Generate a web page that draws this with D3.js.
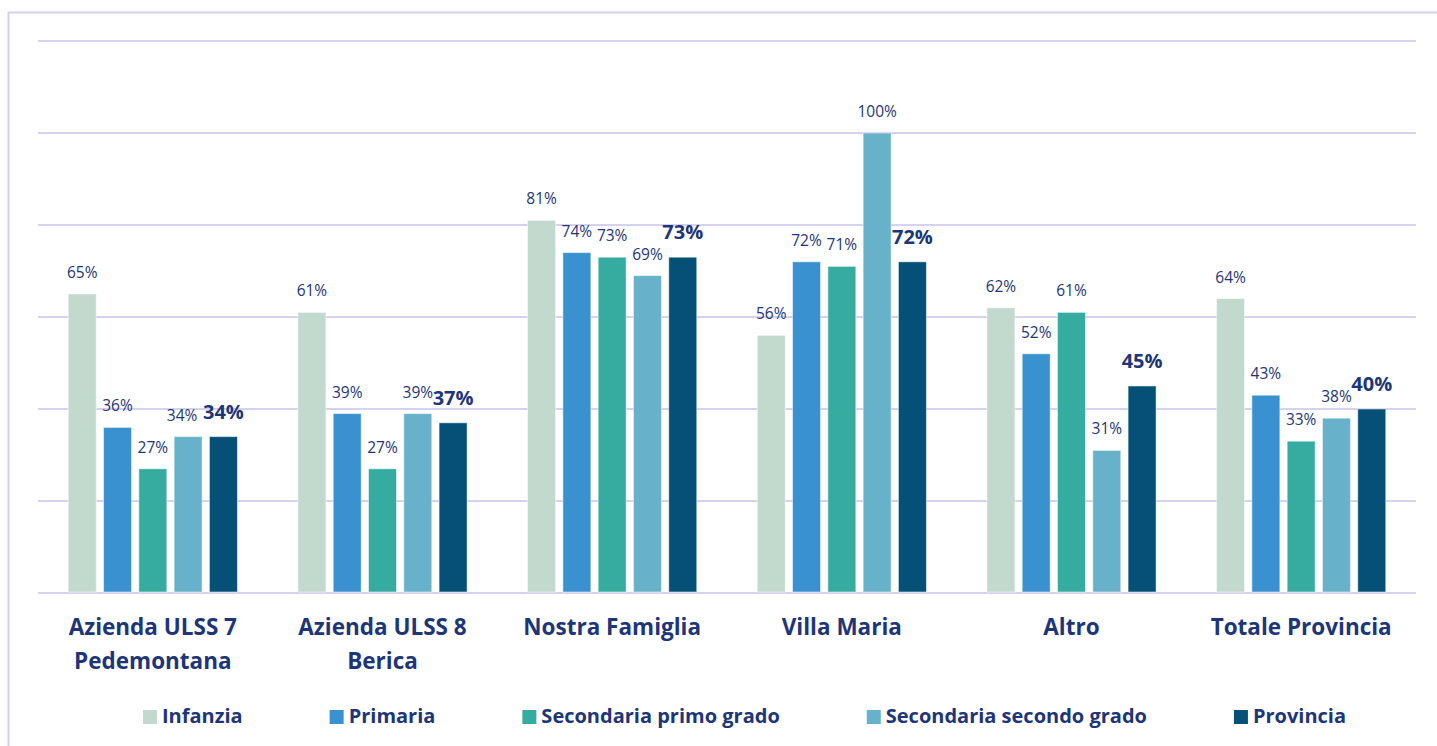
<!DOCTYPE html>
<html><head><meta charset="utf-8">
<script src="https://cdn.jsdelivr.net/npm/d3@7"></script>
<style>html,body{margin:0;padding:0;background:#fff;}svg{display:block;}</style>
</head><body>
<svg id="chart" width="1437" height="746"></svg>
<script>
const categories = [["Azienda ULSS 7","Pedemontana"],["Azienda ULSS 8","Berica"],["Nostra Famiglia"],["Villa Maria"],["Altro"],["Totale Provincia"]];
const seriesNames = ["Infanzia","Primaria","Secondaria primo grado","Secondaria secondo grado","Provincia"];
const infanzia = [65,61,81,56,62,64];
const primaria = [36,39,74,72,52,43];
const secPrimo = [27,27,73,71,61,33];
const secSecondo = [34,39,69,100,31,38];
const provincia = [34,37,73,72,45,40];
const yTicks = [0,20,40,60,80,100,120];
const colors = ["#C2D9CD","#3A91D0","#36ABA0","#67B2CA","#045076"];
const seriesValues = [infanzia,primaria,secPrimo,secSecondo,provincia];

const svg = d3.select("#chart");
const textColor = "#1D3579";
const font = "'Open Sans', Lato, sans-serif";

// frame
svg.append("path").attr("d","M8.5,760 L8.5,12.5 L1450,12.5").attr("fill","none").attr("stroke","#D3CFF0").attr("stroke-width",2);

const x0 = d3.scaleBand().domain(d3.range(categories.length)).range([38,1416]).paddingInner(0).paddingOuter(0);
const x1 = d3.scaleBand().domain(d3.range(seriesNames.length)).range([0,x0.bandwidth()]).paddingInner(0.207).paddingOuter(0.857);
const y = d3.scaleLinear().domain([0,120]).range([593,41]);

// grid
svg.append("g").selectAll("line").data(yTicks).join("line")
  .attr("x1",38).attr("x2",1416).attr("y1",d=>y(d)).attr("y2",d=>y(d))
  .attr("stroke","#D5D1EF").attr("stroke-width",2);

const data = [];
categories.forEach((c,i)=>seriesValues.forEach((s,j)=>data.push({i,j,v:s[i]})));

const bars = svg.append("g");
bars.selectAll("rect").data(data).join("rect")
  .attr("x",d=>x0(d.i)+x1(d.j)).attr("width",x1.bandwidth())
  .attr("y",d=>y(d.v)).attr("height",d=>y(0)-y(d.v)-1)
  .attr("fill",d=>colors[d.j]).attr("stroke","#ffffff").attr("stroke-opacity",0.5).attr("stroke-width",1);

svg.append("g").selectAll("text").data(data).join("text")
  .attr("x",d=>x0(d.i)+x1(d.j)+x1.bandwidth()/2 + (d.j===3 && d.i===0 ? -6 : 0))
  .attr("y",d=>y(d.v)-(d.j===4?18:16))
  .attr("text-anchor","middle")
  .attr("font-family",font)
  .attr("font-size",d=>d.j===4?20:15.5)
  .attr("font-weight",d=>d.j===4?"bold":"normal")
  .attr("fill",textColor)
  .text(d=>d.v+"%");

// category labels
const cat = svg.append("g").selectAll("text").data(categories).join("text")
  .attr("x",(d,i)=>x0(i)+x0.bandwidth()/2).attr("y",635)
  .attr("text-anchor","middle").attr("font-family",font).attr("font-size",22.5).attr("font-weight","bold").attr("fill",textColor);
cat.selectAll("tspan").data(d=>d).join("tspan")
  .attr("x",function(){return this.parentNode.getAttribute("x");})
  .attr("dy",(d,k)=>k===0?0:34).text(d=>d);

// legend
const leg = svg.append("g");
let cx = 0;
seriesNames.forEach((n,j)=>{
  const g = leg.append("g");
  g.append("rect").attr("x",cx).attr("y",-6).attr("width",14).attr("height",14).attr("fill",colors[j]);
  const t = g.append("text").attr("x",cx+19).attr("y",6.5).attr("font-family",font).attr("font-size",20).attr("font-weight","bold").attr("fill",textColor).text(n);
  const w = t.node().getComputedTextLength();
  cx += 19 + w + 87;
});
const total = cx - 87;
leg.attr("transform",`translate(${(147+1342)/2 - total/2},716)`);
</script>
</body></html>
